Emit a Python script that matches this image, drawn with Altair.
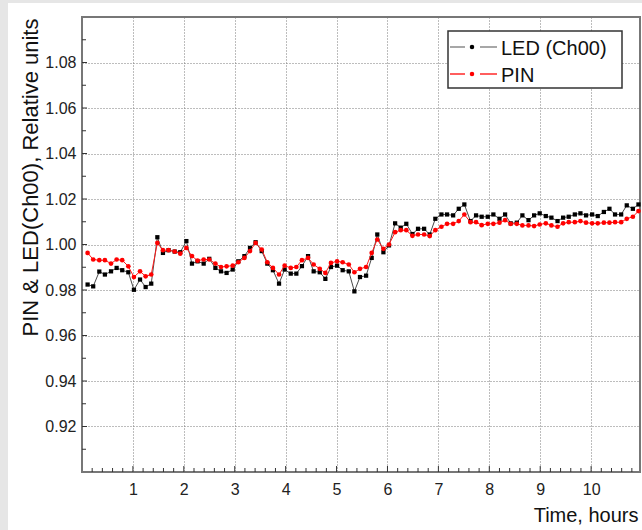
import altair as alt
import pandas as pd

# Sample times (hours)
time_h = [0.11, 0.22, 0.34, 0.45, 0.57, 0.68, 0.79, 0.91, 1.02, 1.14, 1.25, 1.36,
          1.48, 1.59, 1.70, 1.82, 1.93, 2.05, 2.16, 2.27, 2.39, 2.50, 2.62, 2.73,
          2.84, 2.96, 3.07, 3.19, 3.30, 3.41, 3.53, 3.64, 3.75, 3.87, 3.98, 4.10,
          4.21, 4.32, 4.44, 4.55, 4.67, 4.78, 4.89, 5.01, 5.12, 5.24, 5.35, 5.46,
          5.58, 5.69, 5.80, 5.92, 6.03, 6.15, 6.26, 6.37, 6.49, 6.60, 6.72, 6.83,
          6.94, 7.06, 7.17, 7.29, 7.40, 7.51, 7.63, 7.74, 7.85, 7.97, 8.08, 8.20,
          8.31, 8.42, 8.54, 8.65, 8.77, 8.88, 8.99, 9.11, 9.22, 9.34, 9.45, 9.56,
          9.68, 9.79, 9.90, 10.02, 10.13, 10.25, 10.36, 10.47, 10.59, 10.70, 10.82, 10.93]

# LED (Ch00) response, relative units
led = [0.9824, 0.9816, 0.9881, 0.9868, 0.9882, 0.9897, 0.9887, 0.9878, 0.9801, 0.9846,
       0.9813, 0.9828, 1.0032, 0.9963, 0.9975, 0.9969, 0.9966, 1.0015, 0.9916, 0.9926,
       0.9916, 0.9937, 0.9897, 0.9882, 0.9875, 0.9890, 0.9926, 0.9949, 0.9985, 1.0010,
       0.9971, 0.9916, 0.9887, 0.9828, 0.9890, 0.9872, 0.9872, 0.9905, 0.9949, 0.9882,
       0.9878, 0.9849, 0.9901, 0.9907, 0.9887, 0.9882, 0.9794, 0.9857, 0.9863, 0.9941,
       1.0044, 0.9966, 0.9996, 1.0093, 1.0074, 1.0091, 1.0046, 1.0069, 1.0069, 1.0044,
       1.0113, 1.0132, 1.0132, 1.0128, 1.0157, 1.0176, 1.0103, 1.0128, 1.0122, 1.0122,
       1.0132, 1.0113, 1.0132, 1.0093, 1.0096, 1.0128, 1.0107, 1.0128, 1.0137, 1.0125,
       1.0118, 1.0103, 1.0118, 1.0122, 1.0132, 1.0137, 1.0128, 1.0132, 1.0125, 1.0143,
       1.0157, 1.0132, 1.0132, 1.0172, 1.0157, 1.0176]

# PIN diode response, relative units
pin = [0.9963, 0.9934, 0.9931, 0.9931, 0.9916, 0.9934, 0.9931, 0.9904, 0.9857, 0.9882,
       0.9860, 0.9868, 1.0007, 0.9975, 0.9975, 0.9969, 0.9960, 0.9985, 0.9949, 0.9929,
       0.9934, 0.9934, 0.9916, 0.9901, 0.9904, 0.9907, 0.9922, 0.9941, 0.9971, 1.0007,
       0.9978, 0.9922, 0.9897, 0.9868, 0.9907, 0.9897, 0.9901, 0.9931, 0.9941, 0.9912,
       0.9893, 0.9875, 0.9919, 0.9926, 0.9922, 0.9912, 0.9878, 0.9893, 0.9901, 0.9963,
       1.0022, 0.9981, 1.0000, 1.0054, 1.0063, 1.0063, 1.0038, 1.0044, 1.0044, 1.0037,
       1.0063, 1.0078, 1.0091, 1.0091, 1.0103, 1.0132, 1.0098, 1.0098, 1.0085, 1.0091,
       1.0091, 1.0096, 1.0107, 1.0091, 1.0091, 1.0084, 1.0084, 1.0081, 1.0088, 1.0093,
       1.0084, 1.0078, 1.0093, 1.0098, 1.0098, 1.0103, 1.0096, 1.0093, 1.0093, 1.0096,
       1.0096, 1.0098, 1.0098, 1.0113, 1.0122, 1.0147]

# Axis ticks
x_major = [1, 2, 3, 4, 5, 6, 7, 8, 9, 10]
x_minor = [0.2, 0.4, 0.6, 0.8, 1.2, 1.4, 1.6, 1.8, 2.2, 2.4, 2.6, 2.8, 3.2, 3.4, 3.6, 3.8,
           4.2, 4.4, 4.6, 4.8, 5.2, 5.4, 5.6, 5.8, 6.2, 6.4, 6.6, 6.8, 7.2, 7.4, 7.6, 7.8,
           8.2, 8.4, 8.6, 8.8, 9.2, 9.4, 9.6, 9.8, 10.2, 10.4, 10.6, 10.8]
y_major = [0.92, 0.94, 0.96, 0.98, 1.00, 1.02, 1.04, 1.06, 1.08]
y_minor = [0.91, 0.93, 0.95, 0.97, 0.99, 1.01, 1.03, 1.05, 1.07, 1.09]

legend_labels = ["LED (Ch00)", "PIN"]
legend_line_colors = ["#8a8a8a", "#ff2a2a"]
legend_dot_colors = ["#000000", "#ff0000"]

W, H = 558, 455
FONT = "Liberation Sans"

df = pd.DataFrame({"time": time_h, "led": led, "pin": pin})

x_scale = alt.Scale(domain=[0, 10.96], nice=False, zero=False)
y_scale = alt.Scale(domain=[0.90, 1.10], nice=False, zero=False)

x_axis = alt.Axis(values=x_major, format="d", grid=True, gridDash=[1, 2],
                  gridColor="#7a7a7a", gridWidth=1, domain=False, ticks=False,
                  tickSize=0, labelPadding=9, labelFontSize=16, labelColor="#222222",
                  labelFont=FONT, title="Time, hours", titleFont=FONT,
                  titleFontSize=20, titleFontWeight="normal", titleColor="#111111",
                  titleX=556, titleY=49, titleAlign="right",
                  titleBaseline="alphabetic", titleAnchor="end")
y_axis = alt.Axis(values=y_major, format=".2f", grid=True, gridDash=[1, 2],
                  gridColor="#7a7a7a", gridWidth=1, domain=False, ticks=False,
                  tickSize=0, labelPadding=6, labelFontSize=16, labelColor="#222222",
                  labelFont=FONT, title="PIN & LED(Ch00), Relative units",
                  titleFont=FONT, titleFontSize=22, titleFontWeight="normal",
                  titleColor="#111111", titleX=-45, titleY=160, titleAlign="center",
                  titleBaseline="alphabetic", titleAngle=270)

base = alt.Chart(df)

led_line = base.mark_line(color="#4a4a4a", strokeWidth=1).encode(
    x=alt.X("time:Q", scale=x_scale, axis=x_axis),
    y=alt.Y("led:Q", scale=y_scale, axis=y_axis),
)
led_pts = base.mark_point(shape="square", filled=True, color="#000000", size=18,
                          opacity=1).encode(x="time:Q", y="led:Q")
pin_line = base.mark_line(color="#ff1a1a", strokeWidth=1).encode(x="time:Q", y="pin:Q")
pin_pts = base.mark_point(shape="circle", filled=True, color="#ff0000", size=22,
                          opacity=1).encode(x="time:Q", y="pin:Q")

# Inward tick marks along the bottom and left edges
xmaj = alt.Chart(pd.DataFrame({"time": x_major})).mark_rule(
    color="#333333", strokeWidth=1).encode(
    x="time:Q", y=alt.value(H), y2=alt.value(H - 6))
xmin = alt.Chart(pd.DataFrame({"time": x_minor})).mark_rule(
    color="#333333", strokeWidth=1).encode(
    x="time:Q", y=alt.value(H), y2=alt.value(H - 4))
ymaj = alt.Chart(pd.DataFrame({"led": y_major})).mark_rule(
    color="#333333", strokeWidth=1).encode(
    y="led:Q", x=alt.value(0), x2=alt.value(5))
ymin = alt.Chart(pd.DataFrame({"led": y_minor})).mark_rule(
    color="#333333", strokeWidth=1).encode(
    y="led:Q", x=alt.value(0), x2=alt.value(4))

# Light grey frame along the left and top edges of the figure
one = alt.Data(values=[{}])
frame_left = alt.Chart(one).mark_rect(color="#e6e6e6").encode(
    x=alt.value(-82), x2=alt.value(-74), y=alt.value(-17), y2=alt.value(H + 58))
frame_top = alt.Chart(one).mark_rect(color="#e6e6e6").encode(
    x=alt.value(-82), x2=alt.value(W + 2), y=alt.value(-17), y2=alt.value(-14))

# Legend box and entries
legend_box = alt.Chart(one).mark_rect(fill="white", stroke="#333333",
                                      strokeWidth=1.5).encode(
    x=alt.value(366), x2=alt.value(540), y=alt.value(14), y2=alt.value(71))
legend_layers = [legend_box]
row_y = [30, 57]
for lab, lc, dc, ry in zip(legend_labels, legend_line_colors, legend_dot_colors, row_y):
    legend_layers.append(alt.Chart(one).mark_rule(
        color=lc, strokeWidth=1.3, strokeDash=[15, 15, 17]).encode(
        x=alt.value(368), x2=alt.value(415), y=alt.value(ry)))
    legend_layers.append(alt.Chart(one).mark_point(
        shape="circle", filled=True, color=dc, size=20, opacity=1).encode(
        x=alt.value(390), y=alt.value(ry)))
    legend_layers.append(alt.Chart(one).mark_text(
        text=lab, align="left", baseline="middle", font=FONT, fontSize=20,
        color="#111111").encode(x=alt.value(419), y=alt.value(ry + 1.5)))

chart = alt.layer(
    frame_left, frame_top, led_line, led_pts, pin_line, pin_pts,
    xmaj, xmin, ymaj, ymin, *legend_layers
).properties(
    width=W, height=H,
    autosize=alt.AutoSizeParams(type="none"),
    padding={"left": 82, "top": 17, "right": 2, "bottom": 58},
    background="white",
).configure_view(
    stroke="#777777", strokeWidth=2
)

chart.save("out.html", embed_options={"renderer": "svg", "actions": False})
